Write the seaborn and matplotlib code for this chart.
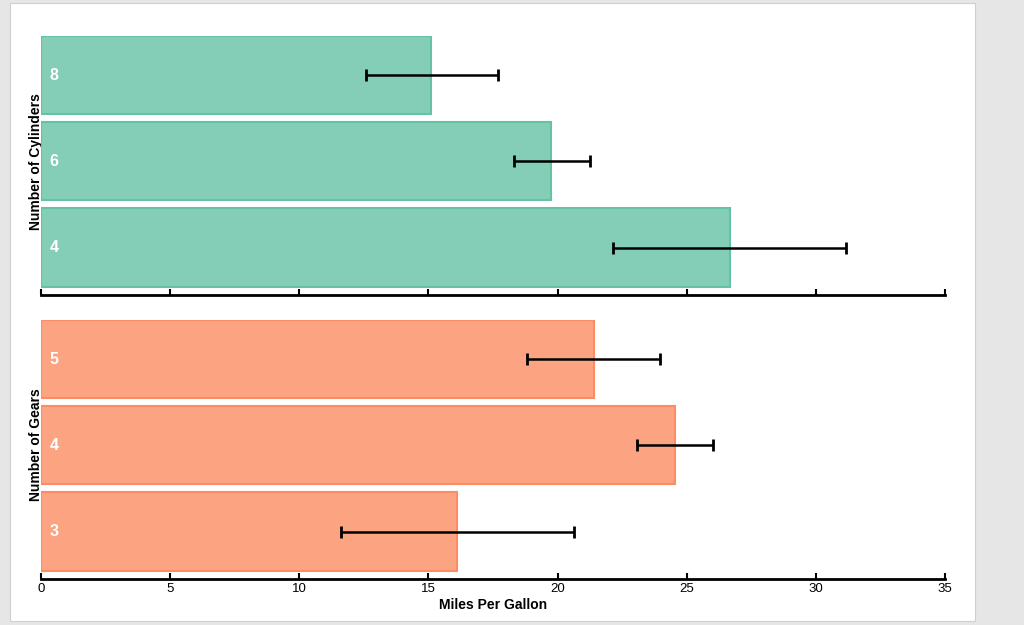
import matplotlib
matplotlib.use("Agg")
import matplotlib.pyplot as plt
import seaborn as sns
import pandas as pd
from matplotlib.patches import Rectangle

# Data
cyl_categories = ["8", "6", "4"]
cyl_mpg = [15.1, 19.74, 26.66]
cyl_err_low = [12.58, 18.31, 22.14]
cyl_err_high = [17.69, 21.27, 31.18]

gear_categories = ["5", "4", "3"]
gear_mpg = [21.4, 24.56, 16.12]
gear_err_low = [18.82, 23.08, 11.62]
gear_err_high = [23.97, 26.02, 20.63]

x_ticks = [0, 5, 10, 15, 20, 25, 30, 35]

sns.set_theme(style="white")
plt.rcParams['font.family'] = ['Liberation Sans', 'DejaVu Sans']

fig = plt.figure(figsize=(10.24, 6.25), dpi=100)
fig.patch.set_facecolor("#e6e6e6")
card = Rectangle((10/1024, 4/625), 965/1024, 618/625, transform=fig.transFigure,
                 facecolor="white", edgecolor="#d0d0d0", lw=0.8, zorder=-10)
fig.patches.append(card)

W, H = 1024, 625
left = 41 / W
width = (945 - 41) / W
ax1 = fig.add_axes([left, 1 - 295 / H, width, (295 - 36) / H])
ax2 = fig.add_axes([left, 1 - 579 / H, width, (579 - 320) / H])

def draw(ax, cats, vals, lo, hi, color, ylabel, show_labels):
    df = pd.DataFrame({"cat": cats, "mpg": vals})
    sns.barplot(data=df, y="cat", x="mpg", order=cats, orient="h", ax=ax,
                color=color, errorbar=None, width=0.907,
                saturation=1, linewidth=1.5, edgecolor=color)
    for p in ax.patches:
        p.set_facecolor(matplotlib.colors.to_rgba(color, 0.8))
        p.set_edgecolor(matplotlib.colors.to_rgba(color, 1.0))
    centers = [(l + h) / 2 for l, h in zip(lo, hi)]
    halves = [(h - l) / 2 for l, h in zip(lo, hi)]
    ax.errorbar(centers, range(len(cats)), xerr=halves, fmt="none",
                ecolor="black", elinewidth=1.8, capsize=4, capthick=2, zorder=5)
    for i, c in enumerate(cats):
        ax.text(0.33, i, c, color="white", fontsize=11.5, fontweight="bold",
                va="center", ha="left", zorder=6)
    ax.set_xlim(0, 35)
    ax.set_ylim(2.55, -0.4535)
    ax.set_xticks(x_ticks)
    ax.set_yticks([])
    for s in ["top", "right", "left"]:
        ax.spines[s].set_visible(False)
    ax.spines["bottom"].set_color("black")
    ax.spines["bottom"].set_linewidth(2)
    ax.tick_params(axis="x", direction="in", length=4, width=1.5, color="black",
                   labelsize=9.5, pad=3, bottom=True, labelbottom=show_labels)
    ax.set_ylabel(ylabel, fontsize=10, fontweight="bold", color="black")
    ax.yaxis.set_label_coords(0.002, 0.517)
    ax.set_xlabel("")
    ax.set_facecolor("none")

draw(ax1, cyl_categories, cyl_mpg, cyl_err_low, cyl_err_high, "#66c2a5",
     "Number of Cylinders", False)
draw(ax2, gear_categories, gear_mpg, gear_err_low, gear_err_high, "#fc8d62",
     "Number of Gears", True)
ax2.set_xlabel("Miles Per Gallon", fontsize=10, fontweight="bold", labelpad=2, color="black")
for lbl in ax2.get_xticklabels():
    lbl.set_color("black")

fig.savefig("out.png", dpi=100, facecolor=fig.get_facecolor())
